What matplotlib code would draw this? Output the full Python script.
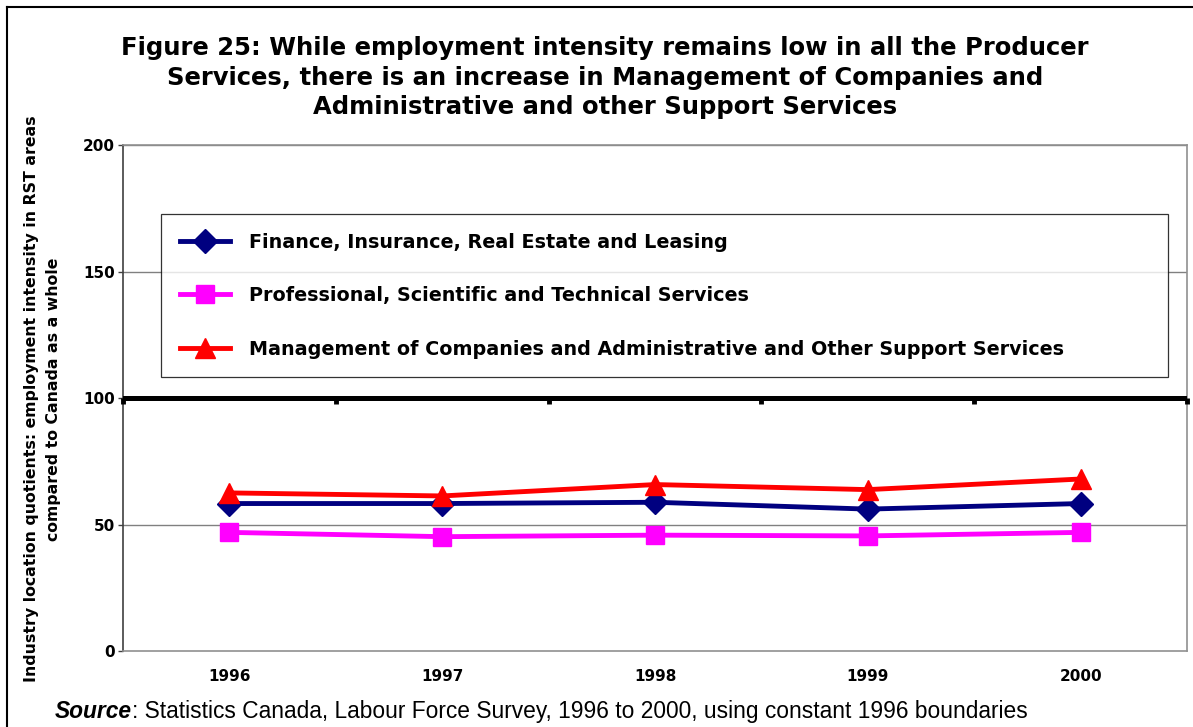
import matplotlib
matplotlib.use("Agg")
import matplotlib.pyplot as plt
import matplotlib.markers as mmarkers
import numpy as np
from matplotlib.lines import Line2D

plt.rcParams["font.family"] = ["DejaVu Sans"]

years = ["1996", "1997", "1998", "1999", "2000"]
finance = [58.3, 58.3, 58.8, 56.1, 58.3]
professional = [46.9, 45.2, 45.8, 45.5, 46.9]
management = [62.5, 61.3, 65.8, 63.8, 68.0]

series_names = [
    "Finance, Insurance, Real Estate and Leasing",
    "Professional, Scientific and Technical Services",
    "Management of Companies and Administrative and Other Support Services",
]

title = ("Figure 25: While employment intensity remains low in all the Producer\n"
         "Services, there is an increase in Management of Companies and\n"
         "Administrative and other Support Services")

ylabel = ("Industry location quotients: employment intensity in RST areas\n"
          "compared to Canada as a whole")
source_rest = ": Statistics Canada, Labour Force Survey, 1996 to 2000, using constant 1996 boundaries"


def main():
    fig = plt.figure(figsize=(11.93, 7.27), dpi=100)
    ax = fig.add_axes([0.1031, 0.1045, 0.892, 0.696])

    x = np.arange(len(years))
    ax.plot(x, finance, color="#000080", lw=3.5, marker="D", ms=12, label=series_names[0], zorder=5)
    ax.plot(x, professional, color="#FF00FF", lw=3.5, marker="s", ms=13, label=series_names[1], zorder=5)
    ax.plot(x, management, color="#FF0000", lw=3.5, marker="^", ms=14, label=series_names[2], zorder=5)

    ax.set_xlim(-0.5, len(years) - 0.5)
    ax.set_ylim(0, 200)
    ax.set_yticks([0, 50, 100, 150, 200])
    for v in [50, 150, 200]:
        ax.axhline(v, color="#808080", lw=1.0, zorder=1)

    # category axis crosses at 100, tick marks sit between the categories
    ax.axhline(100, color="black", lw=3.6, zorder=3)
    bounds = np.arange(len(years) + 1) - 0.5
    ax.plot(bounds, [100] * len(bounds), ls="none", marker=mmarkers.TICKDOWN, ms=4,
            mew=3.5, color="black", zorder=3, clip_on=False)

    ax.set_xticks(x)
    ax.set_xticklabels(years, fontsize=11, fontweight="bold")
    ax.tick_params(axis="x", length=0, pad=13)
    ax.tick_params(axis="y", length=3.6, width=1, color="#404040", labelsize=11, pad=2)
    for lbl in ax.get_yticklabels():
        lbl.set_fontweight("bold")

    ax.spines["left"].set_color("#404040")
    for s in ["top", "right", "bottom"]:
        ax.spines[s].set_color("#909090")
    for s in ax.spines.values():
        s.set_linewidth(1.2)

    leg = ax.legend(loc="upper left", bbox_to_anchor=(0.036, 0.545, 0.946, 0.319),
                    mode="expand", borderaxespad=0, frameon=True, fancybox=False,
                    edgecolor="black", prop={"weight": "bold", "size": 13.8},
                    labelspacing=1.8, borderpad=0.98, handlelength=2.6,
                    handletextpad=1.0)
    leg.get_frame().set_linewidth(0.9)

    fig.text(0.507, 0.893, title, ha="center", va="center", fontsize=17.5,
             fontweight="bold", linespacing=1.28)

    fig.text(0.0356, 0.451, ylabel, rotation=90, ha="center", va="center",
             fontsize=11.3, fontweight="bold", linespacing=1.6)

    src = fig.text(0.046, 0.0124, "Source", fontsize=16.4, fontweight="bold",
                   fontstyle="italic", ha="left", va="baseline",
                   family="Liberation Sans")
    ax.annotate(source_rest, xy=(1, 0), xycoords=src, ha="left", va="bottom",
                fontsize=16.4, family="Liberation Sans", annotation_clip=False)

    # outer frame, only its top and left edges fall inside the image
    fig.add_artist(Line2D([0.006, 1.0], [0.990, 0.990], color="black", lw=1.5))
    fig.add_artist(Line2D([0.006, 0.006], [0.0, 0.990], color="black", lw=1.5))

    fig.savefig("out.png", dpi=100, facecolor="white")
    plt.close(fig)


if __name__ == "__main__":
    main()
